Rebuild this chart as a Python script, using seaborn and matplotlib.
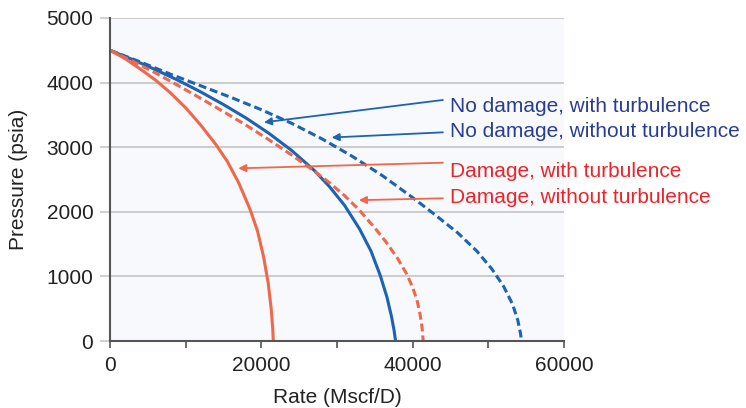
import matplotlib

matplotlib.use("Agg")
import matplotlib.pyplot as plt
import pandas as pd
import seaborn as sns
from matplotlib.ticker import MultipleLocator

nodmg_noturb_rate = [0, 4000, 8000, 12000, 16000, 20000, 24000, 28000, 32000, 36000,
                     40000, 43000, 46000, 48500, 50500, 52000, 53200, 53900, 54250, 54390]
nodmg_noturb_pres = [4500, 4320, 4130, 3950, 3770, 3580, 3370, 3130, 2860, 2560,
                     2220, 1950, 1670, 1390, 1110, 850, 570, 320, 120, 0]

nodmg_turb_rate = [0, 3000, 6000, 9000, 12000, 15000, 18000, 21000, 24000, 27000,
                   29000, 31000, 33000, 34500, 35700, 36600, 37200, 37550, 37740]
nodmg_turb_pres = [4500, 4355, 4200, 4035, 3855, 3660, 3450, 3215, 2950, 2640,
                   2390, 2100, 1730, 1390, 1020, 680, 380, 160, 0]

dmg_noturb_rate = [0, 3000, 6000, 9000, 12000, 15000, 18000, 21000, 24000, 27000,
                   29000, 31000, 33000, 35000, 36500, 38000, 39200, 40000, 40600,
                   41000, 41250, 41390]
dmg_noturb_pres = [4500, 4330, 4150, 3955, 3755, 3550, 3340, 3115, 2880, 2630,
                   2450, 2250, 2020, 1750, 1530, 1280, 1040, 830, 620,
                   400, 200, 0]

dmg_turb_rate = [0, 2000, 4000, 6000, 8000, 10000, 12000, 14000, 15500, 17000,
                 18500, 19500, 20300, 20900, 21300, 21500, 21580]
dmg_turb_pres = [4500, 4370, 4210, 4040, 3840, 3610, 3340, 3040, 2780, 2450,
                 2040, 1700, 1300, 900, 500, 200, 0]

cases = [
    "No damage, with turbulence",
    "No damage, without turbulence",
    "Damage, with turbulence",
    "Damage, without turbulence",
]

# label baseline position, arrow tail and arrow head (data coords)
label_pos = [(45000, 3549), (45000, 3162), (45000, 2543), (45000, 2131)]
arrow_tail = [(44000, 3731), (44000, 3230), (44000, 2760), (44000, 2209)]
arrow_head = [(20350, 3385), (29300, 3150), (16950, 2673), (32900, 2180)]

BLUE = "#1c63b3"
ORANGE = "#f0674a"
BLUE_TXT = "#2a3d94"
RED_TXT = "#ec2329"
FS = 15

frames = []
for name, rate, pres in zip(
    cases,
    [nodmg_turb_rate, nodmg_noturb_rate, dmg_turb_rate, dmg_noturb_rate],
    [nodmg_turb_pres, nodmg_noturb_pres, dmg_turb_pres, dmg_noturb_pres],
):
    frames.append(pd.DataFrame({"Rate": rate, "Pressure": pres, "Case": name}))
df = pd.concat(frames, ignore_index=True)

palette = {cases[0]: BLUE, cases[1]: BLUE, cases[2]: ORANGE, cases[3]: ORANGE}
dashes = {cases[0]: "", cases[1]: (2.6, 1.3), cases[2]: "", cases[3]: (2.6, 1.3)}

sns.set_theme(style="whitegrid")
plt.rcParams["font.family"] = ["Liberation Sans", "DejaVu Sans"]

fig = plt.figure(figsize=(7.46, 4.08), dpi=100)
ax = fig.add_axes([0.1475, 0.1642, 0.6085, 0.7917])
ax.set_facecolor("#f8f9fc")

sns.lineplot(
    data=df,
    x="Rate",
    y="Pressure",
    hue="Case",
    style="Case",
    palette=palette,
    dashes=dashes,
    sort=False,
    estimator=None,
    linewidth=2.2,
    legend=False,
    ax=ax,
)

ax.set_xlim(0, 60000)
ax.set_ylim(0, 5000)
ax.set_xticks([0, 20000, 40000, 60000])
ax.xaxis.set_minor_locator(MultipleLocator(10000))
ax.set_yticks([0, 1000, 2000, 3000, 4000, 5000])

ax.grid(axis="x", visible=False)
ax.grid(axis="y", color="#c8c8c8", linewidth=1.3)
ax.set_axisbelow(True)

for side in ["top", "right"]:
    ax.spines[side].set_visible(False)
for side in ["left", "bottom"]:
    ax.spines[side].set_color("#555555")
    ax.spines[side].set_linewidth(1.5)

ax.tick_params(axis="x", which="both", bottom=True, direction="out", length=5,
               width=1.2, color="#555555", labelsize=FS, labelcolor="#222222", pad=6)
ax.tick_params(axis="y", left=True, direction="out", length=7, width=1.2,
               color="#c8c8c8", labelsize=FS, labelcolor="#222222", pad=5)

ax.set_xlabel("Rate (Mscf/D)", fontsize=FS, color="#222222", labelpad=9)
ax.set_ylabel("Pressure (psia)", fontsize=FS, color="#222222", labelpad=13)

for i, name in enumerate(cases):
    line_col = BLUE if i < 2 else ORANGE
    txt_col = BLUE_TXT if i < 2 else RED_TXT
    ax.annotate(
        "",
        xy=arrow_head[i],
        xytext=arrow_tail[i],
        arrowprops=dict(arrowstyle="-|>", color=line_col, lw=1.3,
                        mutation_scale=11, shrinkA=0, shrinkB=0),
    )
    ax.text(label_pos[i][0], label_pos[i][1], name, color=txt_col,
            fontsize=FS, va="baseline", ha="left", clip_on=False)

fig.savefig("out.png", dpi=100)
